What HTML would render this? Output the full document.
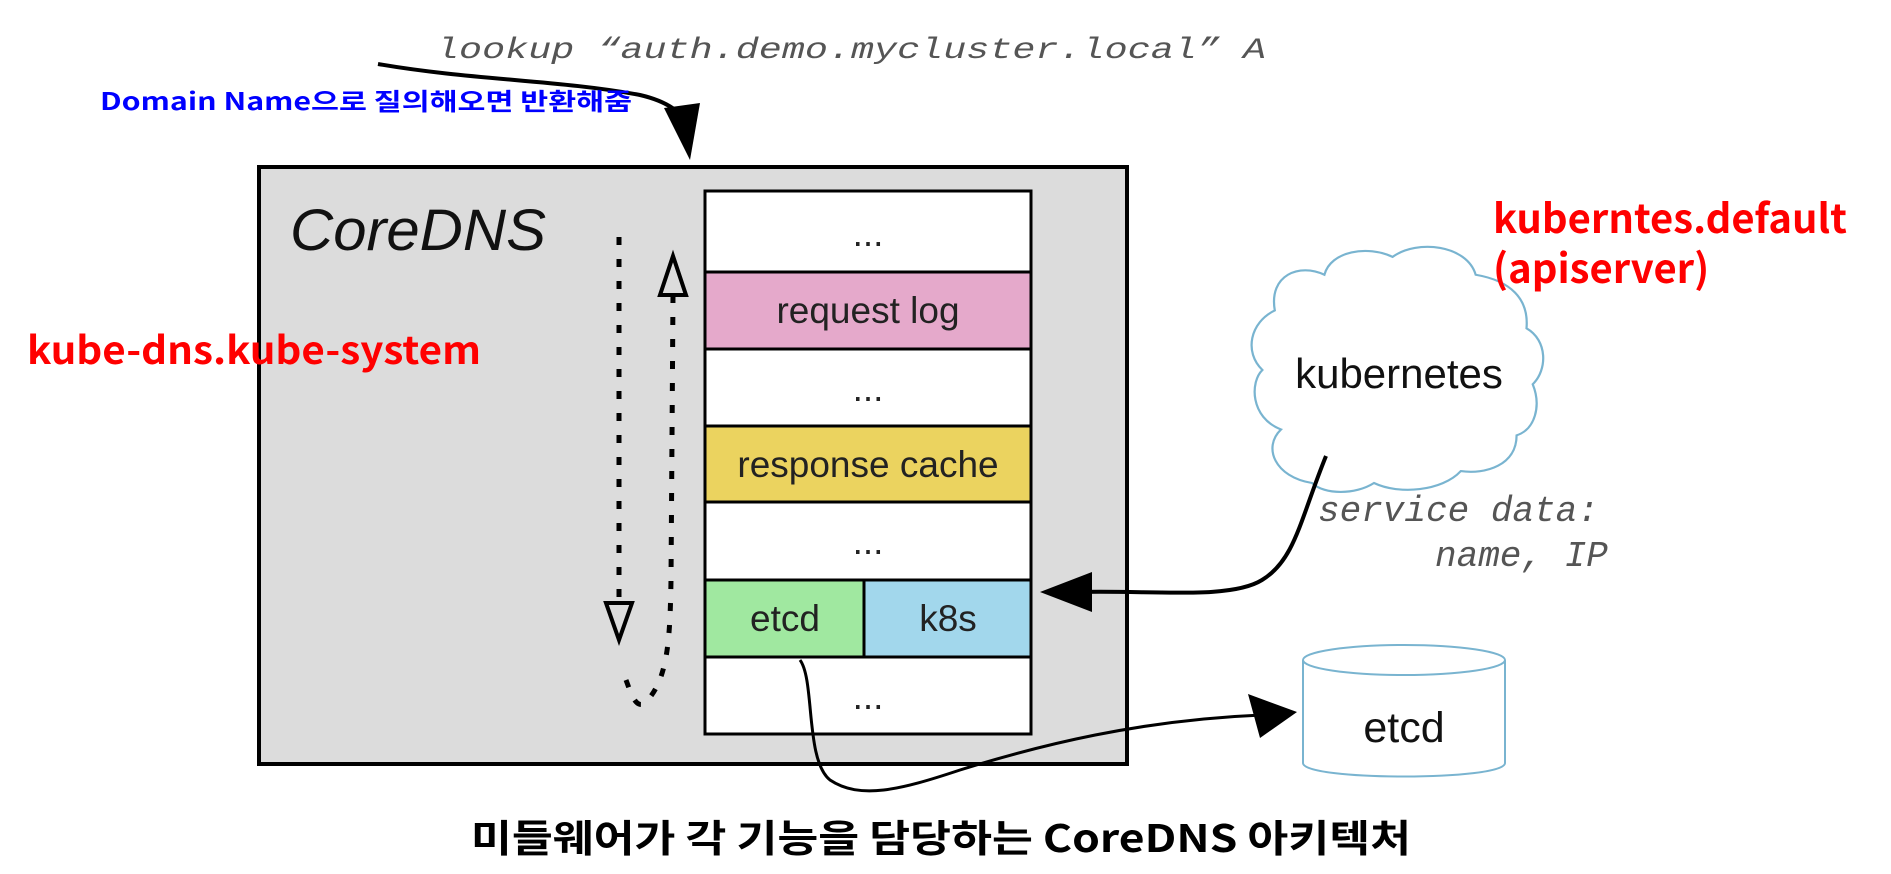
<!DOCTYPE html>
<html><head><meta charset="utf-8"><style>
body{margin:0;background:#fff;}
svg{display:block}
.sans{font-family:"Liberation Sans","Noto Sans CJK KR",sans-serif}
.mono{font-family:"Liberation Mono",monospace;font-style:italic;fill:#555}
.kr{font-family:"Noto Sans CJK KR","Liberation Sans",sans-serif;font-weight:bold}
</style></head><body>
<svg width="1891" height="874" viewBox="0 0 1891 874" xmlns="http://www.w3.org/2000/svg">
<defs>
<linearGradient id="sh" x1="0" y1="0" x2="0" y2="1"><stop offset="0" stop-color="#888"/><stop offset="1" stop-color="#fff"/></linearGradient>
</defs>
<text x="436" y="58" class="mono" font-size="30" textLength="830" lengthAdjust="spacingAndGlyphs">lookup “auth.demo.mycluster.local” A</text>
<path d="M378 64 C 470 80, 560 80, 640 95 C 670 102, 685 115, 690 130" fill="none" stroke="#000" stroke-width="4"/>
<polygon points="690,160 664,108 700,103" fill="#000"/>
<text x="100" y="110" class="kr" font-size="24" fill="#0000ff" textLength="532" lengthAdjust="spacingAndGlyphs">Domain Name으로 질의해오면 반환해줌</text>
<rect x="257" y="178" width="871" height="590" fill="url(#sh)" opacity="0.5"/>
<rect x="259" y="167" width="868" height="597" fill="#dcdcdc" stroke="#000" stroke-width="4"/>
<text x="290" y="250" class="sans" font-size="58" font-style="italic" fill="#111" textLength="256" lengthAdjust="spacingAndGlyphs">CoreDNS</text>
<text x="27" y="364" class="kr" font-size="38" fill="#ff0000" textLength="454" lengthAdjust="spacingAndGlyphs">kube-dns.kube-system</text>
<g stroke="#000" stroke-width="3">
<rect x="705" y="191" width="326" height="81" fill="#fff"/>
<rect x="705" y="272" width="326" height="77" fill="#e5a9cb"/>
<rect x="705" y="349" width="326" height="77" fill="#fff"/>
<rect x="705" y="426" width="326" height="76" fill="#ebd35f"/>
<rect x="705" y="502" width="326" height="78" fill="#fff"/>
<rect x="705" y="580" width="159" height="77" fill="#a0e8a0"/>
<rect x="864" y="580" width="167" height="77" fill="#a2d7ec"/>
<rect x="705" y="657" width="326" height="77" fill="#fff"/>
</g>
<g class="sans" font-size="37" fill="#222" text-anchor="middle">
<text x="868" y="246">...</text>
<text x="868" y="323">request log</text>
<text x="868" y="401">...</text>
<text x="868" y="477">response cache</text>
<text x="868" y="554">...</text>
<text x="785" y="631">etcd</text>
<text x="948" y="631">k8s</text>
<text x="868" y="709">...</text>
</g>
<!-- dotted arrows -->
<path d="M619 237 L619 600" stroke="#000" stroke-width="5" stroke-dasharray="8 14" fill="none"/>
<polygon points="606,603 632,603 619,640" fill="none" stroke="#000" stroke-width="4"/>
<path d="M673 295 L671 580 C 670 640, 668 680, 645 703 C 635 710, 630 690, 626 680" stroke="#000" stroke-width="5" stroke-dasharray="8 14" fill="none"/>
<polygon points="660,295 686,295 673,256" fill="none" stroke="#000" stroke-width="4"/>
<!-- cloud -->
<g transform="translate(1250,245) scale(1.24,1.19) translate(-1250,-275)">
<path d="M1300 475 C1270 470,1260 445,1275 430 C1250 420,1250 390,1260 380 C1245 365,1250 340,1270 330 C1265 300,1290 290,1310 300 C1315 280,1345 275,1365 285 C1385 270,1425 275,1432 300 C1460 305,1475 320,1473 345 C1490 355,1490 380,1478 392 C1485 410,1480 430,1465 435 C1465 460,1440 468,1420 465 C1405 482,1370 485,1350 475 C1335 485,1310 485,1300 475 Z" fill="#fff" stroke="#79b4d0" stroke-width="1.8"/>
</g>
<text x="1399" y="388" class="sans" font-size="42" fill="#111" text-anchor="middle">kubernetes</text>
<text x="1493" y="233" class="kr" font-size="40" fill="#ff0000">kuberntes.default</text>
<text x="1493" y="283" class="kr" font-size="40" fill="#ff0000">(apiserver)</text>
<text x="1318" y="521" class="mono" font-size="36">service data:</text>
<text x="1435" y="566" class="mono" font-size="36">name, IP</text>
<path d="M1326 456 C 1300 520, 1295 560, 1262 580 C 1230 600, 1150 590, 1080 592" fill="none" stroke="#000" stroke-width="4"/>
<polygon points="1040,592 1092,572 1092,612" fill="#000"/>
<!-- etcd line -->
<path d="M800 660 C 815 680, 805 760, 830 780 C 860 800, 900 790, 960 770 C 1040 745, 1140 720, 1262 715" fill="none" stroke="#000" stroke-width="3"/>
<polygon points="1297,712 1248,694 1260,738" fill="#000"/>
<!-- cylinder -->
<path d="M1303 660 L1303 763 C1303 781,1505 781,1505 763 L1505 660" fill="#fff" stroke="#79b4d0" stroke-width="2"/>
<ellipse cx="1404" cy="660" rx="101" ry="15" fill="#fff" stroke="#79b4d0" stroke-width="2"/>
<text x="1404" y="742" class="sans" font-size="43" fill="#111" text-anchor="middle">etcd</text>
<text x="941" y="852" class="kr" font-size="38" fill="#000" text-anchor="middle" textLength="940" lengthAdjust="spacingAndGlyphs">미들웨어가 각 기능을 담당하는 CoreDNS 아키텍처</text>
</svg>
</body></html>
